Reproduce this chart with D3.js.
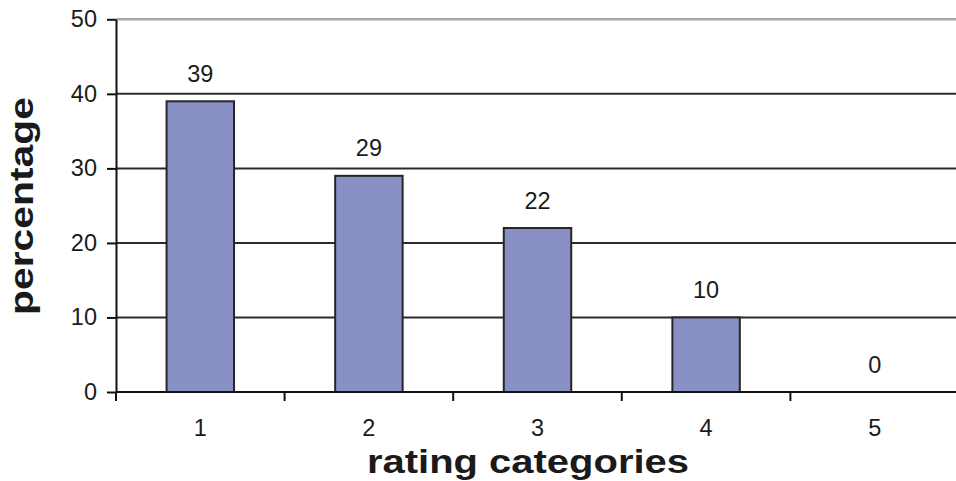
<!DOCTYPE html>
<html>
<head>
<meta charset="utf-8">
<script src="https://cdn.jsdelivr.net/npm/d3@7/dist/d3.min.js"></script>
<style>
  html, body { margin: 0; padding: 0; background: #fff; }
  svg { display: block; }
  text { font-family: "Liberation Sans", Arial, Helvetica, sans-serif; fill: #1a1a1a; }
</style>
</head>
<body>
<svg id="chart" width="956" height="481"></svg>
<script>
// Rating categories and the share of responses in each
const categories = ["1", "2", "3", "4", "5"];
const percentages = [39, 29, 22, 10, 0];
const yTicks = [0, 10, 20, 30, 40, 50];
const xTitle = "rating categories";
const yTitle = "percentage";

const svg = d3.select("#chart");

const plot = { left: 116, right: 959, top: 19.3, bottom: 392 };

const x = d3.scaleBand()
  .domain(categories)
  .range([plot.left, plot.right])
  .paddingInner(0.6)
  .paddingOuter(0.3);

const y = d3.scaleLinear()
  .domain([0, 50])
  .range([plot.bottom, plot.top]);

// horizontal gridlines (top one lighter, acting as plot frame)
svg.append("g")
  .selectAll("line")
  .data(yTicks.filter(d => d > 0))
  .join("line")
  .attr("x1", plot.left)
  .attr("x2", plot.right)
  .attr("y1", d => y(d))
  .attr("y2", d => y(d))
  .attr("stroke", d => d === 50 ? "#a8a8a8" : "#2a2a2a")
  .attr("stroke-width", d => d === 50 ? 2.5 : 2);

// bars
svg.append("g")
  .selectAll("rect")
  .data(categories.map((c, i) => ({ c, v: percentages[i] })))
  .join("rect")
  .attr("x", d => x(d.c))
  .attr("y", d => y(d.v))
  .attr("width", x.bandwidth())
  .attr("height", d => y(0) - y(d.v))
  .attr("fill", "#8890c6")
  .attr("stroke", "#262626")
  .attr("stroke-width", 2)
  .attr("display", d => d.v > 0 ? null : "none");

// value labels above bars
svg.append("g")
  .selectAll("text")
  .data(categories.map((c, i) => ({ c, v: percentages[i] })))
  .join("text")
  .attr("x", d => x(d.c) + x.bandwidth() / 2)
  .attr("y", d => y(d.v) - 19.5)
  .attr("text-anchor", "middle")
  .attr("font-size", 23.5)
  .text(d => d.v);

// y axis
const yAxis = svg.append("g")
  .attr("transform", `translate(${plot.left},0)`)
  .call(d3.axisLeft(y).tickValues(yTicks).tickSize(9).tickPadding(10).tickSizeOuter(0));
yAxis.select(".domain").attr("stroke", "#111").attr("stroke-width", 2);
yAxis.selectAll(".tick line").attr("stroke", "#111").attr("stroke-width", 2);
yAxis.selectAll(".tick text")
  .attr("font-size", 23.5)
  .attr("font-family", "'Liberation Sans', Arial, sans-serif")
  .attr("fill", "#1a1a1a");

// x axis: baseline, boundary ticks, centred category labels
const step = x.step();
const bounds = d3.range(categories.length + 1).map(i => plot.left + i * step);
const xAxis = svg.append("g").attr("transform", `translate(0,${plot.bottom})`);
xAxis.append("line")
  .attr("x1", plot.left).attr("x2", plot.right)
  .attr("stroke", "#111").attr("stroke-width", 2);
xAxis.selectAll("line.tick")
  .data(bounds)
  .join("line")
  .attr("class", "tick")
  .attr("x1", d => d).attr("x2", d => d)
  .attr("y1", 0).attr("y2", 9)
  .attr("stroke", "#111").attr("stroke-width", 2);
xAxis.selectAll("text")
  .data(categories)
  .join("text")
  .attr("x", d => x(d) + x.bandwidth() / 2)
  .attr("y", 44)
  .attr("text-anchor", "middle")
  .attr("font-size", 23.5)
  .text(d => d);

// axis titles
svg.append("text")
  .attr("x", 367)
  .attr("y", 472.5)
  .attr("font-size", 34)
  .attr("font-weight", "bold")
  .attr("textLength", 322)
  .attr("lengthAdjust", "spacingAndGlyphs")
  .text(xTitle);

svg.append("text")
  .attr("transform", "translate(33,315) rotate(-90)")
  .attr("font-size", 33)
  .attr("font-weight", "bold")
  .attr("textLength", 218)
  .attr("lengthAdjust", "spacingAndGlyphs")
  .text(yTitle);
</script>
</body>
</html>
